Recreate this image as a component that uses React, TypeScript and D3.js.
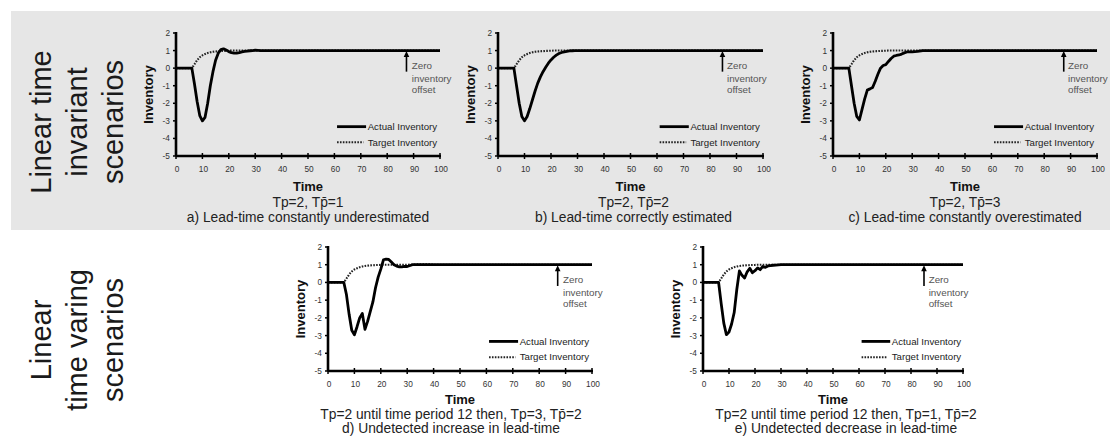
import React from "react";
import * as d3 from "d3";

// time periods (all series are flat at 0 before t=6, at 1 after t=40)
const periods = [0, 6, 7, 8, 9, 10, 11, 12, 13, 14, 15, 16, 17, 18, 19, 20, 21, 22, 23, 24, 25, 26, 27, 28, 29, 30, 32, 34, 36, 38, 40, 100];

const actualA = [0, 0, -0.9, -1.9, -2.7, -3.0, -2.8, -2.0, -1.0, -0.2, 0.45, 0.85, 1.05, 1.1, 1.03, 0.94, 0.88, 0.85, 0.85, 0.88, 0.92, 0.95, 0.97, 0.99, 1.0, 1.02, 1.0, 1.0, 1.0, 1.0, 1.0, 1.0];
const actualB = [0, 0, -1.0, -2.0, -2.75, -3.0, -2.75, -2.3, -1.8, -1.3, -0.85, -0.5, -0.2, 0.05, 0.28, 0.47, 0.62, 0.74, 0.83, 0.89, 0.93, 0.96, 0.98, 0.99, 1.0, 1.0, 1.0, 1.0, 1.0, 1.0, 1.0, 1.0];
const actualC = [0, 0, -1.0, -2.0, -2.75, -2.95, -2.35, -1.75, -1.25, -1.18, -1.1, -0.75, -0.35, 0.0, 0.15, 0.2, 0.38, 0.55, 0.68, 0.72, 0.75, 0.8, 0.87, 0.92, 0.93, 0.93, 0.95, 1.0, 1.0, 1.0, 1.0, 1.0];
const actualD = [0, 0, -0.7, -1.8, -2.7, -2.95, -2.5, -2.0, -1.75, -2.65, -2.2, -1.65, -1.1, -0.3, 0.3, 0.75, 1.28, 1.32, 1.3, 1.15, 1.0, 0.92, 0.88, 0.88, 0.9, 0.9, 1.0, 1.0, 1.0, 1.0, 1.0, 1.0];
const actualE = [0, 0, -1.2, -2.3, -2.95, -2.8, -2.35, -1.7, -0.4, 0.65, 0.4, 0.25, 0.6, 0.8, 0.55, 0.66, 0.82, 0.72, 0.9, 0.85, 0.93, 0.95, 0.97, 0.98, 0.99, 1.0, 1.0, 1.0, 1.0, 1.0, 1.0, 1.0];

const targetInventory = [0, 0, 0.22, 0.45, 0.62, 0.73, 0.8, 0.86, 0.9, 0.93, 0.95, 0.96, 0.97, 0.98, 0.985, 0.99, 1.0, 1.0, 1.0, 1.0, 1.0, 1.0, 1.0, 1.0, 1.0, 1.0, 1.0, 1.0, 1.0, 1.0, 1.0, 1.0];
const targetD = [0, 0, 0.22, 0.45, 0.62, 0.73, 0.8, 0.86, 0.9, 0.93, 0.95, 0.96, 0.97, 0.98, 0.985, 0.99, 1.0, 1.0, 1.0, 1.0, 1.0, 1.0, 1.0, 1.0, 1.0, 1.0, 1.01, 1.02, 1.03, 1.03, 1.0, 1.0];

const xTicks = [0, 10, 20, 30, 40, 50, 60, 70, 80, 90, 100];
const yTicks = [2, 1, 0, -1, -2, -3, -4, -5];

const FONT = "'Liberation Sans', Arial, Helvetica, sans-serif";

const panels = [
  { id: "a", actual: actualA, target: targetInventory, left: 176, right: 440, top: 33, bottom: 156, row: 0, arrowT: 87.3, noteT: 89.3, dx: 0,
    sub: "Tp=2, Tp\u0304=1", caption: "a) Lead-time constantly underestimated" },
  { id: "b", actual: actualB, target: targetInventory, left: 498, right: 763, top: 33, bottom: 156, row: 0, arrowT: 84.7, noteT: 86.4, dx: 3,
    sub: "Tp=2, Tp\u0304=2", caption: "b) Lead-time correctly estimated" },
  { id: "c", actual: actualC, target: targetInventory, left: 833, right: 1097, top: 33, bottom: 156, row: 0, arrowT: 87.4, noteT: 89, dx: 0,
    sub: "Tp=2, Tp\u0304=3", caption: "c) Lead-time constantly overestimated" },
  { id: "d", actual: actualD, target: targetD, left: 328, right: 592, top: 247, bottom: 371, row: 1, arrowT: 87, noteT: 89, dx: -9,
    sub: "Tp=2 until time period 12 then, Tp=3, Tp\u0304=2", caption: "d) Undetected increase in lead-time" },
  { id: "e", actual: actualE, target: targetInventory, left: 703, right: 963, top: 247, bottom: 371, row: 1, arrowT: 85, noteT: 86.8, dx: 13,
    sub: "Tp=2 until time period 12 then, Tp=1, Tp\u0304=2", caption: "e) Undetected decrease in lead-time" },
];

// baseline offsets below the x axis: tick labels, "Time", subtitle, caption
const rowOffsets = [
  [16, 34.5, 51, 65.5],
  [16, 33, 48, 62],
];

function Panel({ p }) {
  const x = d3.scaleLinear().domain([0, 100]).range([p.left, p.right]);
  const y = d3.scaleLinear().domain([-5, 2]).range([p.bottom, p.top]);
  const line = d3.line<number>().x((d, i) => x(periods[i])).y((d) => y(d));
  const off = rowOffsets[p.row];
  const cx = (p.left + p.right) / 2;
  const ax = x(p.arrowT);

  return (
    <g>
      {/* target first, actual drawn on top */}
      <path d={line(p.target) || ""} fill="none" stroke="#222" strokeWidth={2.1} strokeDasharray="1.6,1.3" />
      <path d={line(p.actual) || ""} fill="none" stroke="#000" strokeWidth={2.8} strokeLinejoin="round" />

      {/* axes */}
      <line x1={p.left} x2={p.left} y1={y(2) - 1} y2={p.bottom} stroke="#000" strokeWidth={2.6} />
      <line x1={p.left} x2={p.right + 1} y1={p.bottom} y2={p.bottom} stroke="#000" strokeWidth={2.6} />
      {yTicks.map((t) => (
        <g key={"y" + t}>
          <line x1={p.left - 3} x2={p.left} y1={y(t)} y2={y(t)} stroke="#000" strokeWidth={1.5} />
          <text x={p.left - 6} y={y(t) + 3} fontSize={8.3} textAnchor="end" fill="#333" fontFamily={FONT}>{t}</text>
        </g>
      ))}
      {xTicks.map((t) => (
        <g key={"x" + t}>
          <line x1={x(t)} x2={x(t)} y1={p.bottom - 3} y2={p.bottom + 3} stroke="#000" strokeWidth={1.5} />
          <text x={x(t) + 1} y={p.bottom + off[0]} fontSize={8.3} textAnchor="middle" fill="#333" fontFamily={FONT}>{t}</text>
        </g>
      ))}

      <text transform={`translate(${p.left - 23},${(p.top + p.bottom) / 2}) rotate(-90)`} fontSize={13} fontWeight="bold"
        textAnchor="middle" fill="#111" fontFamily={FONT}>Inventory</text>
      <text x={cx} y={p.bottom + off[1]} fontSize={13} fontWeight="bold" textAnchor="middle" fill="#111" fontFamily={FONT}>Time</text>
      <text x={cx + p.dx} y={p.bottom + off[2]} fontSize={13.8} textAnchor="middle" fill="#222" fontFamily={FONT}>{p.sub}</text>
      <text x={cx + p.dx} y={p.bottom + off[3]} fontSize={13.8} textAnchor="middle" fill="#222" fontFamily={FONT}>{p.caption}</text>

      {/* zero inventory offset note */}
      <line x1={ax} x2={ax} y1={y(-0.2)} y2={y(1) + 5} stroke="#000" strokeWidth={1.6} />
      <path d={`M${ax},${y(1) + 0.5} L${ax - 2.8},${y(1) + 6.5} L${ax + 2.8},${y(1) + 6.5} Z`} fill="#000" />
      {["Zero", "inventory", "offset"].map((s, i) => (
        <text key={s} x={x(p.noteT)} y={y([-0.05, -0.77, -1.39][i])} fontSize={9.8} fill="#555" fontFamily={FONT}>{s}</text>
      ))}

      {/* legend */}
      <line x1={x(61)} x2={x(72)} y1={y(-3.33)} y2={y(-3.33)} stroke="#000" strokeWidth={2.8} />
      <text x={x(72.6)} y={y(-3.33) + 3.3} fontSize={9.7} fill="#222" fontFamily={FONT}>Actual Inventory</text>
      <line x1={x(61)} x2={x(71)} y1={y(-4.22)} y2={y(-4.22)} stroke="#222" strokeWidth={2.1} strokeDasharray="1.6,1.3" />
      <text x={x(72.6)} y={y(-4.22) + 3.3} fontSize={9.7} fill="#222" fontFamily={FONT}>Target Inventory</text>
    </g>
  );
}

const groupLabels = [
  { lines: ["Linear time", "invariant", "scenarios"], cy: 122 },
  { lines: ["Linear", "time varing", "scenarios"], cy: 340 },
];

export default function App() {
  return (
    <svg width={1110} height={440} style={{ position: "absolute", left: 0, top: 0, background: "#fff" }}>
      <rect x={11} y={11} width={1099} height={219} fill="#e6e6e6" />
      {groupLabels.map((g, gi) => (
        <g key={gi}>
          {g.lines.map((s, i) => (
            <text key={s} transform={`translate(${51 + i * 36},${g.cy}) rotate(-90)`} fontSize={29} textAnchor="middle"
              fill="#1a1a1a" fontFamily={FONT}>{s}</text>
          ))}
        </g>
      ))}
      {panels.map((p) => <Panel key={p.id} p={p} />)}
    </svg>
  );
}
